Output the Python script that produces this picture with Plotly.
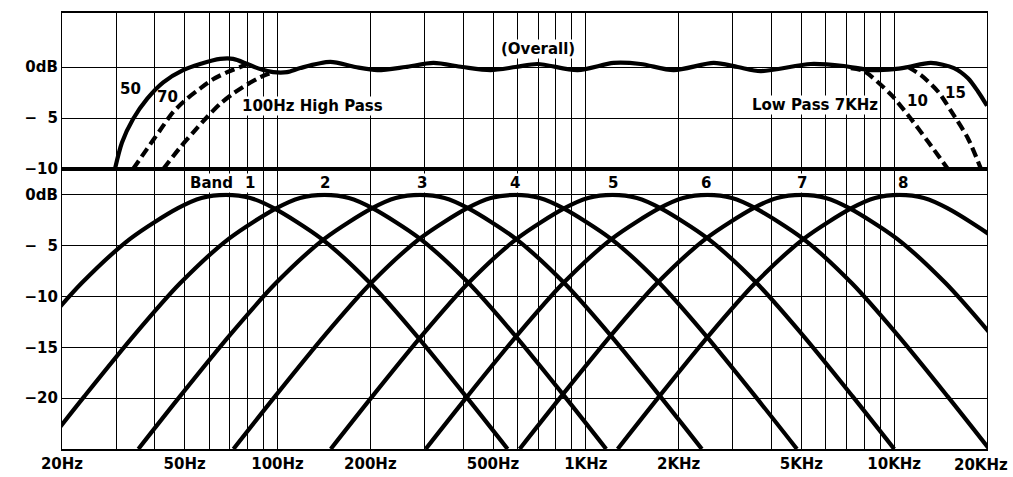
import numpy as np
import plotly.graph_objects as go
from plotly.subplots import make_subplots

# ---------------- data ----------------
GRID_FREQS = [20, 30, 40, 50, 60, 70, 80, 90, 100, 200, 300, 400, 500, 600, 700, 800, 900,
              1000, 2000, 3000, 4000, 5000, 6000, 7000, 8000, 9000, 10000, 20000]
X_LABELS = {20: "20Hz", 50: "50Hz", 100: "100Hz", 200: "200Hz", 500: "500Hz",
            1000: "1KHz", 2000: "2KHz", 5000: "5KHz", 10000: "10KHz"}
LAST_X_LABEL = "20KHz"

TOP_Y_TICKS = [0, -5, -10]
TOP_Y_TEXT = ["0dB", "\u2212\u00a0\u00a05", "\u221210"]
BOT_Y_TICKS = [0, -5, -10, -15, -20]
BOT_Y_TEXT = ["0dB", "\u2212\u00a0\u00a05", "\u221210", "\u221215", "\u221220"]

# top panel: overall response (solid, incl. 50Hz high pass and 15KHz low pass)
MAIN_FREQ = [29.7, 31.3, 34.0, 37.8, 42.6, 49.4, 56.1, 65.2, 71.8, 79.8, 87.9, 96.8, 107.5,
             118.5, 148.3, 178.8, 210.8, 259.8, 320.4, 397.8, 490.6, 591.4, 697, 940, 1230,
             1505, 1927, 2598, 3108, 3692, 5366, 6868, 8404, 9982, 11080, 13158, 15628,
             17352, 18700, 20000]
MAIN_DB = [-10, -7.4, -5.1, -3.1, -1.5, -0.3, 0.3, 0.8, 0.8, 0.3, -0.2, -0.5, -0.5,
           -0.1, 0.5, 0, -0.3, 0, 0.4, 0, -0.3, 0, 0.3, -0.3, 0.4,
           0.3, -0.3, 0.4, 0, -0.4, 0.3, 0.1, -0.3, -0.2, 0, 0.4, -0.1,
           -1.1, -2.4, -3.8]

HP70_FREQ = [34.0, 37.8, 41.6, 45.9, 50.9, 56.1, 61.8, 68.7, 75.7, 79.8]
HP70_DB = [-10, -8, -6.2, -4.4, -3.1, -2.1, -1.2, -0.5, 0, 0.3]
HP100_FREQ = [42.6, 48.3, 53.3, 59.1, 65.2, 71.8, 79.8, 87.9, 96.8]
HP100_DB = [-10, -7.9, -6.4, -4.9, -3.6, -2.6, -1.7, -1.0, -0.5]
LP7K_FREQ = [7234, 7975, 9758, 11080, 12865, 14936]
LP7K_DB = [-0.1, -0.4, -2.7, -4.7, -7.3, -10]
LP10K_FREQ = [11080, 12212, 13866, 15283, 17352, 19124]
LP10K_DB = [0, -0.8, -2.4, -4.3, -7, -10]

# bottom panel: octave bands
BAND_DB = [-25, -19.8, -13.8, -8.7, -4.3, -1.3, -0.3, 0, -0.3, -1.3, -4.3, -8.7, -13.8, -19.8, -25]
BAND1_FREQ = [8.29, 11.33, 16.43, 23.13, 33.33, 47.55, 56.67, 68, 81.6, 97.24, 138.7, 199.9, 281.5, 408, 557.6]
BAND2_FREQ = [17.32, 23.67, 34.30, 48.30, 69.61, 99.30, 118.3, 142, 170.4, 203.1, 289.7, 417.5, 587.9, 852, 1164]
BAND3_FREQ = [35.37, 48.33, 70.05, 98.64, 142.2, 202.8, 241.7, 290, 348, 414.7, 591.6, 852.6, 1201, 1740, 2378]
BAND4_FREQ = [71.95, 98.33, 142.5, 200.7, 289.2, 412.6, 491.7, 590, 708, 843.7, 1204, 1735, 2443, 3540, 4838]
BAND5_FREQ = [148.8, 203.3, 294.7, 415.0, 598.0, 853.1, 1017, 1220, 1464, 1745, 2489, 3587, 5051, 7320, 10004]
BAND6_FREQ = [302.4, 413.3, 599.0, 843.5, 1216, 1734, 2067, 2480, 2976, 3546, 5059, 7291, 10267, 14880, 20336]
BAND7_FREQ = [609.8, 833.3, 1208, 1701, 2451, 3497, 4167, 5000, 6000, 7150, 10200, 14700, 20700, 30000, 41000]
BAND8_FREQ = [1268, 1733, 2512, 3537, 5098, 7273, 8667, 10400, 12480, 14872, 21216, 30576, 43056, 62400, 85280]
BAND_FREQS = [BAND1_FREQ, BAND2_FREQ, BAND3_FREQ, BAND4_FREQ,
              BAND5_FREQ, BAND6_FREQ, BAND7_FREQ, BAND8_FREQ]
BAND_LABELS = ["1", "2", "3", "4", "5", "6", "7", "8"]
BAND_LABEL_FREQ = [81.2, 142.8, 295, 590, 1221, 2448, 5024, 10700]

# ---------------- figure ----------------
FONT = "DejaVu Sans"
fig = make_subplots(rows=2, cols=1, shared_xaxes=True, vertical_spacing=0)

LW = 4.2
spline = dict(shape="spline", smoothing=0.8)

fig.add_trace(go.Scatter(x=MAIN_FREQ, y=MAIN_DB, mode="lines",
                         line=dict(color="black", width=LW, **spline)), row=1, col=1)
for fx, fy in [(HP70_FREQ, HP70_DB), (HP100_FREQ, HP100_DB),
               (LP7K_FREQ, LP7K_DB), (LP10K_FREQ, LP10K_DB)]:
    fig.add_trace(go.Scatter(x=fx, y=fy, mode="lines",
                             line=dict(color="black", width=LW, dash="10px,5px", **spline)),
                  row=1, col=1)

for bf in BAND_FREQS:
    fig.add_trace(go.Scatter(x=bf, y=BAND_DB, mode="lines",
                             line=dict(color="black", width=LW, **spline)), row=2, col=1)

xr = [np.log10(20), np.log10(20000)]
common_x = dict(type="log", range=xr, tickmode="array", tickvals=GRID_FREQS,
                showgrid=True, gridcolor="black", gridwidth=1.3,
                showline=True, linecolor="black", linewidth=1.6, mirror=True,
                ticks="", zeroline=False, automargin=False)
fig.update_xaxes(**common_x)
fig.update_xaxes(showticklabels=False, row=1, col=1)
fig.update_xaxes(showticklabels=True, row=2, col=1,
                 ticktext=[X_LABELS.get(f, "") for f in GRID_FREQS],
                 tickfont=dict(family=FONT, size=15, color="black", weight="bold"))

common_y = dict(showgrid=True, gridcolor="black", gridwidth=1.3,
                showline=True, linecolor="black", linewidth=1.3, mirror=True,
                ticks="", zeroline=False, tickmode="array", automargin=False,
                ticklabelstandoff=0,
                tickfont=dict(family=FONT, size=15, color="black", weight="bold"))
fig.update_yaxes(**common_y)
fig.update_yaxes(range=[-10, 5.3], tickvals=TOP_Y_TICKS, ticktext=TOP_Y_TEXT, row=1, col=1)
fig.update_yaxes(range=[-25, 2.55], tickvals=BOT_Y_TICKS, ticktext=BOT_Y_TEXT, row=2, col=1)

split = 280 / 436
fig.update_layout(yaxis=dict(domain=[split, 1]), yaxis2=dict(domain=[0, split]))

afont = dict(family=FONT, size=15, color="black", weight="bold")
ann = []
def add(text, f, db, xref, yref, bg=None, xanchor="center"):
    d = dict(text=text, x=np.log10(f), y=db, xref=xref, yref=yref, showarrow=False,
             font=afont, xanchor=xanchor, yanchor="middle", borderpad=0)
    if bg:
        d["bgcolor"] = bg
    ann.append(d)

add("50", 33.3, -2.2, "x", "y")
add("70", 44.1, -2.9, "x", "y")
add("100Hz High Pass", 76.2, -3.8, "x", "y", bg="white", xanchor="left")
add("(Overall)", 698, 1.75, "x", "y", bg="white")
add("Low Pass 7KHz", 5540, -3.7, "x", "y", bg="white")
add("10", 11900, -3.3, "x", "y")
add("15", 15800, -2.5, "x", "y")
add("Band", 61.2, 1.15, "x2", "y2", bg="white")
for lab, lf in zip(BAND_LABELS, BAND_LABEL_FREQ):
    add(lab, lf, 1.15, "x2", "y2", bg="white")
# last x label, kept inside the page
ann.append(dict(text=LAST_X_LABEL, x=1.0, xref="paper", xshift=23, y=0, yref="paper",
                yshift=-5, xanchor="right", yanchor="top", showarrow=False, font=afont))

fig.update_layout(
    width=1013, height=477,
    margin=dict(l=62, r=26, t=13, b=28),
    paper_bgcolor="white", plot_bgcolor="white",
    showlegend=False, annotations=ann,
)
fig.write_html("out.html", config={"displayModeBar": False},
               post_script="document.body.style.margin='0px';"
                           "document.body.style.overflow='hidden';")
